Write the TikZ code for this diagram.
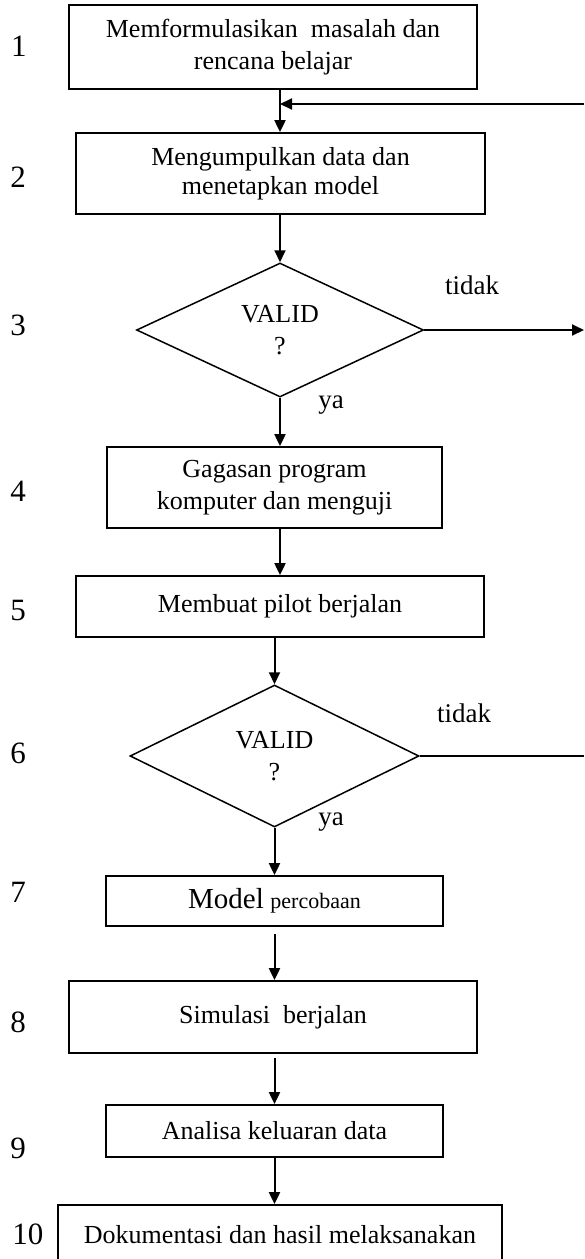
\documentclass[tikz,border=0pt]{standalone}
\usepackage{fontspec}
\setmainfont{Liberation Serif}
\usetikzlibrary{arrows.meta,shapes.geometric,calc}

\begin{document}
\begin{tikzpicture}[x=1pt,y=-1pt,
  every node/.style={font=\fontsize{26}{32}\selectfont},
  stepbox/.style={draw, line width=1.8pt, rectangle, inner sep=0pt, align=center},
  decision/.style={draw, line width=1.5pt, diamond, aspect=2.1, inner sep=0pt, align=center},
  flow/.style={line width=2pt, -{Triangle[length=12pt,width=11pt]}},
  plainline/.style={line width=2pt},
  num/.style={font=\fontsize{31}{36}\selectfont},
  lbl/.style={font=\fontsize{27}{32}\selectfont}]

\useasboundingbox (0,0) rectangle (584,1259);

% process steps and decisions
\node[stepbox, minimum width=408pt, minimum height=84pt] (b1) at (273,47)
  {Memformulasikan\ \ masalah dan\\rencana belajar};
\node[stepbox, minimum width=409pt, minimum height=81pt,
      font=\fontsize{26}{29}\selectfont] (b2) at (280.5,173.5)
  {Mengumpulkan data dan\\menetapkan model};
\node[decision, minimum width=287pt, minimum height=134pt] (d3) at (280,330)
  {VALID\\?};
\node[stepbox, minimum width=335pt, minimum height=81pt] (b4) at (274.5,487.5)
  {Gagasan program\\komputer dan menguji};
\node[stepbox, minimum width=408pt, minimum height=61pt] (b5) at (280,606.5)
  {Membuat pilot berjalan};
\node[decision, minimum width=289pt, minimum height=142pt] (d6) at (274.5,756)
  {VALID\\?};
\node[stepbox, minimum width=337pt, minimum height=50pt] (b7) at (274.5,901)
  {{\fontsize{29}{34}\selectfont Model} {\fontsize{22}{26}\selectfont percobaan}};
\node[stepbox, minimum width=408pt, minimum height=72pt] (b8) at (273,1017)
  {Simulasi\ \ berjalan};
\node[stepbox, minimum width=337pt, minimum height=52pt] (b9) at (274.5,1131)
  {Analisa keluaran data};
\node[stepbox, minimum width=444pt, minimum height=60pt] (b10) at (280,1235)
  {Dokumentasi dan hasil melaksanakan};

% step numbers
\node[num] (n1) at (19,46) {1};
\node[num] (n2) at (18,177) {2};
\node[num] (n3) at (18,325) {3};
\node[num] (n4) at (18,491) {4};
\node[num] (n5) at (18,610) {5};
\node[num] (n6) at (18,753) {6};
\node[num] (n7) at (18,892) {7};
\node[num] (n8) at (18,1022) {8};
\node[num] (n9) at (18,1148) {9};
\node[num] (n10) at (28,1234) {10};

% branch labels
\node[lbl] (t3) at (472,285) {tidak};
\node[lbl] (y3) at (331,405) {ya};
\node[lbl] (t6) at (464,713) {tidak};
\node[lbl] (y6) at (331,822) {ya};

% main flow
\draw[flow] (b1.south -| d3.north) -- (b2.north -| d3.north);
\draw[flow] (b2.south -| d3.north) -- (d3.north);
\draw[flow] (d3.south) -- (b4.north -| d3.south);
\draw[flow] (b4.south -| d3.south) -- (b5.north -| d3.south);
\draw[flow] (b5.south -| d6.north) -- (d6.north);
\draw[flow] (d6.south) -- (b7.north -| d6.south);
\draw[flow, shorten <=7pt] (b7.south -| d6.south) -- (b8.north -| d6.south);
\draw[flow, shorten <=4pt] (b8.south -| d6.south) -- (b9.north -| d6.south);
\draw[flow] (b9.south -| d6.south) -- (b10.north -| d6.south);

% loop-back lines on the right
\coordinate (fbin) at (584,104);
\coordinate (no3) at (584,330);
\coordinate (no6) at (584,756);
\draw[flow] (fbin) -- (fbin -| d3.north);
\draw[flow] (d3.east) -- (no3);
\draw[plainline] (d6.east) -- (no6);

\end{tikzpicture}
\end{document}
